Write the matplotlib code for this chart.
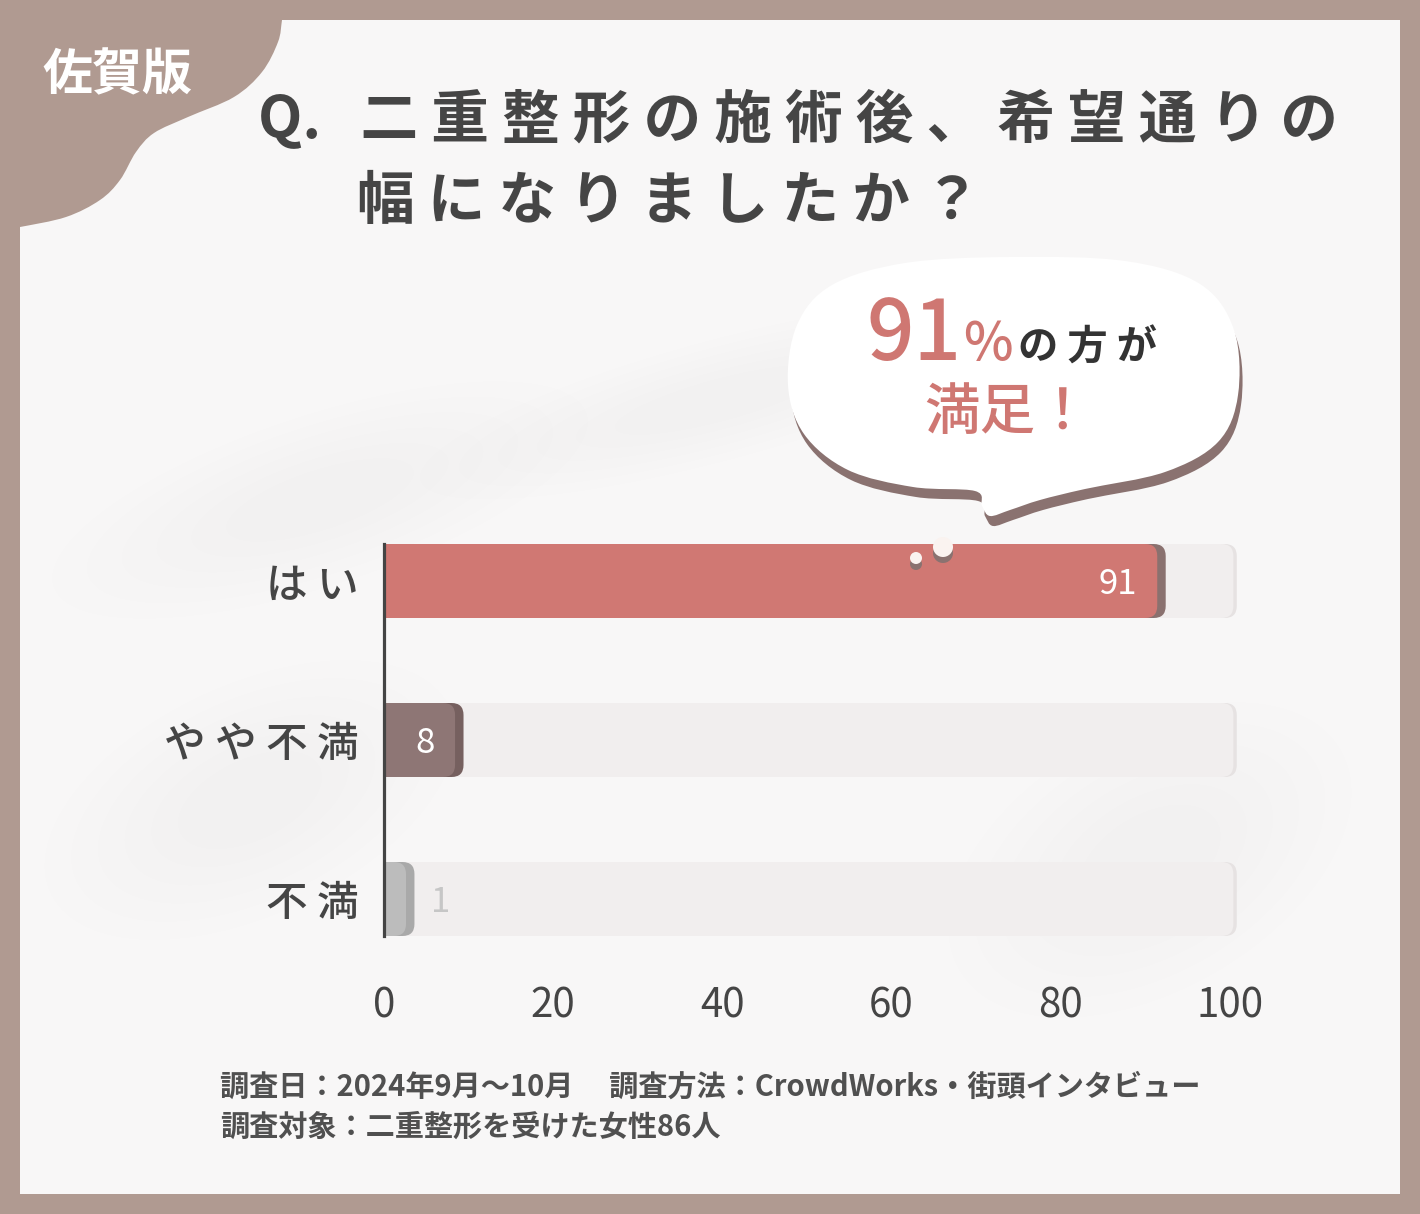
import matplotlib
matplotlib.use('Agg')
import matplotlib.pyplot as plt
from matplotlib.patches import FancyBboxPatch, Rectangle, Circle, PathPatch, Ellipse
from matplotlib.path import Path
import numpy as np

plt.rcParams['font.family'] = ['Noto Sans CJK JP', 'DejaVu Sans']

# data
categories = ['はい', 'やや不満', '不満']
values = [91, 8, 1]
bar_colors = ['#d07873', '#8e7675', '#bcbcbc']
shadow_colors = ['#8a716f', '#76605f', '#a9a9a9']
label_colors = ['white', 'white', '#c6c6c6']
xticks = [0, 20, 40, 60, 80, 100]

title_line1 = 'Q. 二重整形の施術後、希望通りの'
title_line2 = '幅になりましたか？'
region = '佐賀版'
footer1 = '調査日：2024年9月～10月　 調査方法：CrowdWorks・街頭インタビュー'
footer2 = '調査対象：二重整形を受けた女性86人'

W, H = 1420, 1214
BROWN = '#b09a91'
TEXT = '#454545'
PINK = '#cf7772'


def smooth_path(pts):
    # closed catmull-rom curve through the points
    pts = np.array(pts, dtype=float)
    n = len(pts)
    verts = [pts[0]]
    codes = [Path.MOVETO]
    for i in range(n):
        p0, p1, p2, p3 = pts[i - 1], pts[i], pts[(i + 1) % n], pts[(i + 2) % n]
        c1 = p1 + (p2 - p0) / 6
        c2 = p2 - (p3 - p1) / 6
        verts += [c1, c2, p2]
        codes += [Path.CURVE4] * 3
    return Path(verts, codes)


fig = plt.figure(figsize=(W / 100, H / 100), dpi=100)
fig.patch.set_facecolor(BROWN)

# background layer in pixel coords
bg = fig.add_axes([0, 0, 1, 1], zorder=0)
bg.set_xlim(0, W)
bg.set_ylim(H, 0)
bg.axis('off')
bg.add_patch(Rectangle((20, 20), 1380, 1174, facecolor='#f8f7f7', edgecolor='none'))
# faint soft shadows on the panel
for (cx, cy, w, h, ang) in [(320, 500, 560, 170, -18), (720, 400, 620, 120, -15),
                            (250, 800, 440, 230, -25), (1150, 860, 440, 260, -30)]:
    for k in range(6):
        f = 1 - k * 0.13
        bg.add_patch(Ellipse((cx, cy), w * f, h * f, angle=ang, facecolor='#c4c4c4',
                             edgecolor='none', alpha=0.012))

blob = [(0, 0), (285, 0), (282, 20), (278, 42), (262, 72), (234, 97), (188, 117),
        (154, 133), (136, 152), (120, 180), (100, 200), (66, 217), (20, 227), (0, 230)]
bg.add_patch(PathPatch(smooth_path(blob), facecolor=BROWN, edgecolor='none'))
bg.text(117, 76, region, color='white', fontsize=36, fontweight='bold', ha='center', va='center')

# title
bg.text(258, 120, ' '.join(title_line1).replace('Q .', 'Q.'), color=TEXT, fontsize=41.5,
        fontweight='bold', ha='left', va='center')
bg.text(357, 202, ' '.join(title_line2), color=TEXT, fontsize=41.5,
        fontweight='bold', ha='left', va='center')

# footer
bg.text(220, 1087, footer1, color='#505050', fontsize=21, fontweight='bold', ha='left', va='center')
bg.text(220, 1127, footer2, color='#505050', fontsize=21, fontweight='bold', ha='left', va='center')

# speech bubble
bubble = [(788, 385), (797, 325), (832, 285), (905, 263), (1010, 257), (1125, 261),
          (1200, 284), (1234, 330), (1238, 395), (1218, 442), (1165, 472), (1085, 489),
          (1040, 500), (1010, 510), (990, 516), (982, 506), (975, 491), (913, 487),
          (848, 470), (804, 434)]
fg = fig.add_axes([0, 0, 1, 1], zorder=3)
fg.set_xlim(0, W)
fg.set_ylim(H, 0)
fg.axis('off')
fg.patch.set_alpha(0)
shadow_pts = [(x + 3, y + 10) for x, y in bubble]
fg.add_patch(PathPatch(smooth_path(shadow_pts), facecolor='#8a7270', edgecolor='none'))
fg.add_patch(PathPatch(smooth_path(bubble), facecolor='white', edgecolor='none'))
for (cx, cy, r) in [(943, 547, 10), (916, 558, 6)]:
    fg.add_patch(Circle((cx, cy + 6), r, facecolor='#8a7270', edgecolor='none'))
    fg.add_patch(Circle((cx, cy), r, facecolor='#faf3f0', edgecolor='none'))

fg.text(866, 360, '91', color=PINK, fontsize=60, fontweight='medium', ha='left', va='baseline')
fg.text(963, 360, '%', color=PINK, fontsize=38, fontweight='medium', ha='left', va='baseline')
fg.text(1018, 360, ' '.join('の方が'), color='#333333', fontsize=29, fontweight='bold',
        ha='left', va='baseline')
fg.text(1007, 413, '満足！', color=PINK, fontsize=40, fontweight='medium', ha='center', va='center')

# chart
px_per_unit = 8.46
x_left, x_right_px = 384, 1247
top_px, bot_px = 544, 936
ax = fig.add_axes([x_left / W, 1 - bot_px / H, (x_right_px - x_left) / W, (bot_px - top_px) / H],
                  zorder=1)
ax.patch.set_alpha(0)
ax.set_xlim(0, (x_right_px - x_left) / px_per_unit)
pad = 37 / 159
ax.set_ylim(len(categories) - 1 + pad, -pad)

bh = 74 / 159
r_x = 12 / px_per_unit
aspect = (1 / 159) / (1 / px_per_unit)
style = 'round,pad=0,rounding_size=%f' % r_x

for i, v in enumerate(values):
    # track
    ax.add_patch(FancyBboxPatch((-2, i - bh / 2), 102.8, bh, boxstyle=style,
                                mutation_aspect=aspect, facecolor='#e6e2e2', edgecolor='none'))
    ax.add_patch(FancyBboxPatch((-2, i - bh / 2), 102.4, bh, boxstyle=style,
                                mutation_aspect=aspect, facecolor='#f1eeee', edgecolor='none'))
    end = max(v + 0.4, 2.6)
    ax.add_patch(FancyBboxPatch((-2, i - bh / 2), end + 3.0, bh, boxstyle=style,
                                mutation_aspect=aspect, facecolor=shadow_colors[i], edgecolor='none'))
    ax.add_patch(FancyBboxPatch((-2, i - bh / 2), end + 2, bh, boxstyle=style,
                                mutation_aspect=aspect, facecolor=bar_colors[i], edgecolor='none'))
    if v >= 5:
        ax.text(v - 2.0, i + 0.02, str(v), color=label_colors[i], fontsize=25,
                ha='right', va='center')
    else:
        ax.text(5.6, i + 0.02, str(v), color=label_colors[i], fontsize=25,
                ha='left', va='center')

for s in ['top', 'right', 'bottom']:
    ax.spines[s].set_visible(False)
ax.spines['left'].set_color('#444444')
ax.spines['left'].set_linewidth(2.3)
ax.spines['left'].set_zorder(5)

ax.set_xticks(xticks)
ax.set_xticklabels([str(t) for t in xticks], fontsize=29, color=TEXT)
ax.set_yticks(range(len(categories)))
ax.set_yticklabels([' '.join(c) for c in categories], fontsize=30, color=TEXT, fontweight='medium')
ax.tick_params(axis='x', length=0, pad=36)
ax.tick_params(axis='y', length=0, pad=18)

fig.savefig('out.png', dpi=100, facecolor=fig.get_facecolor())
